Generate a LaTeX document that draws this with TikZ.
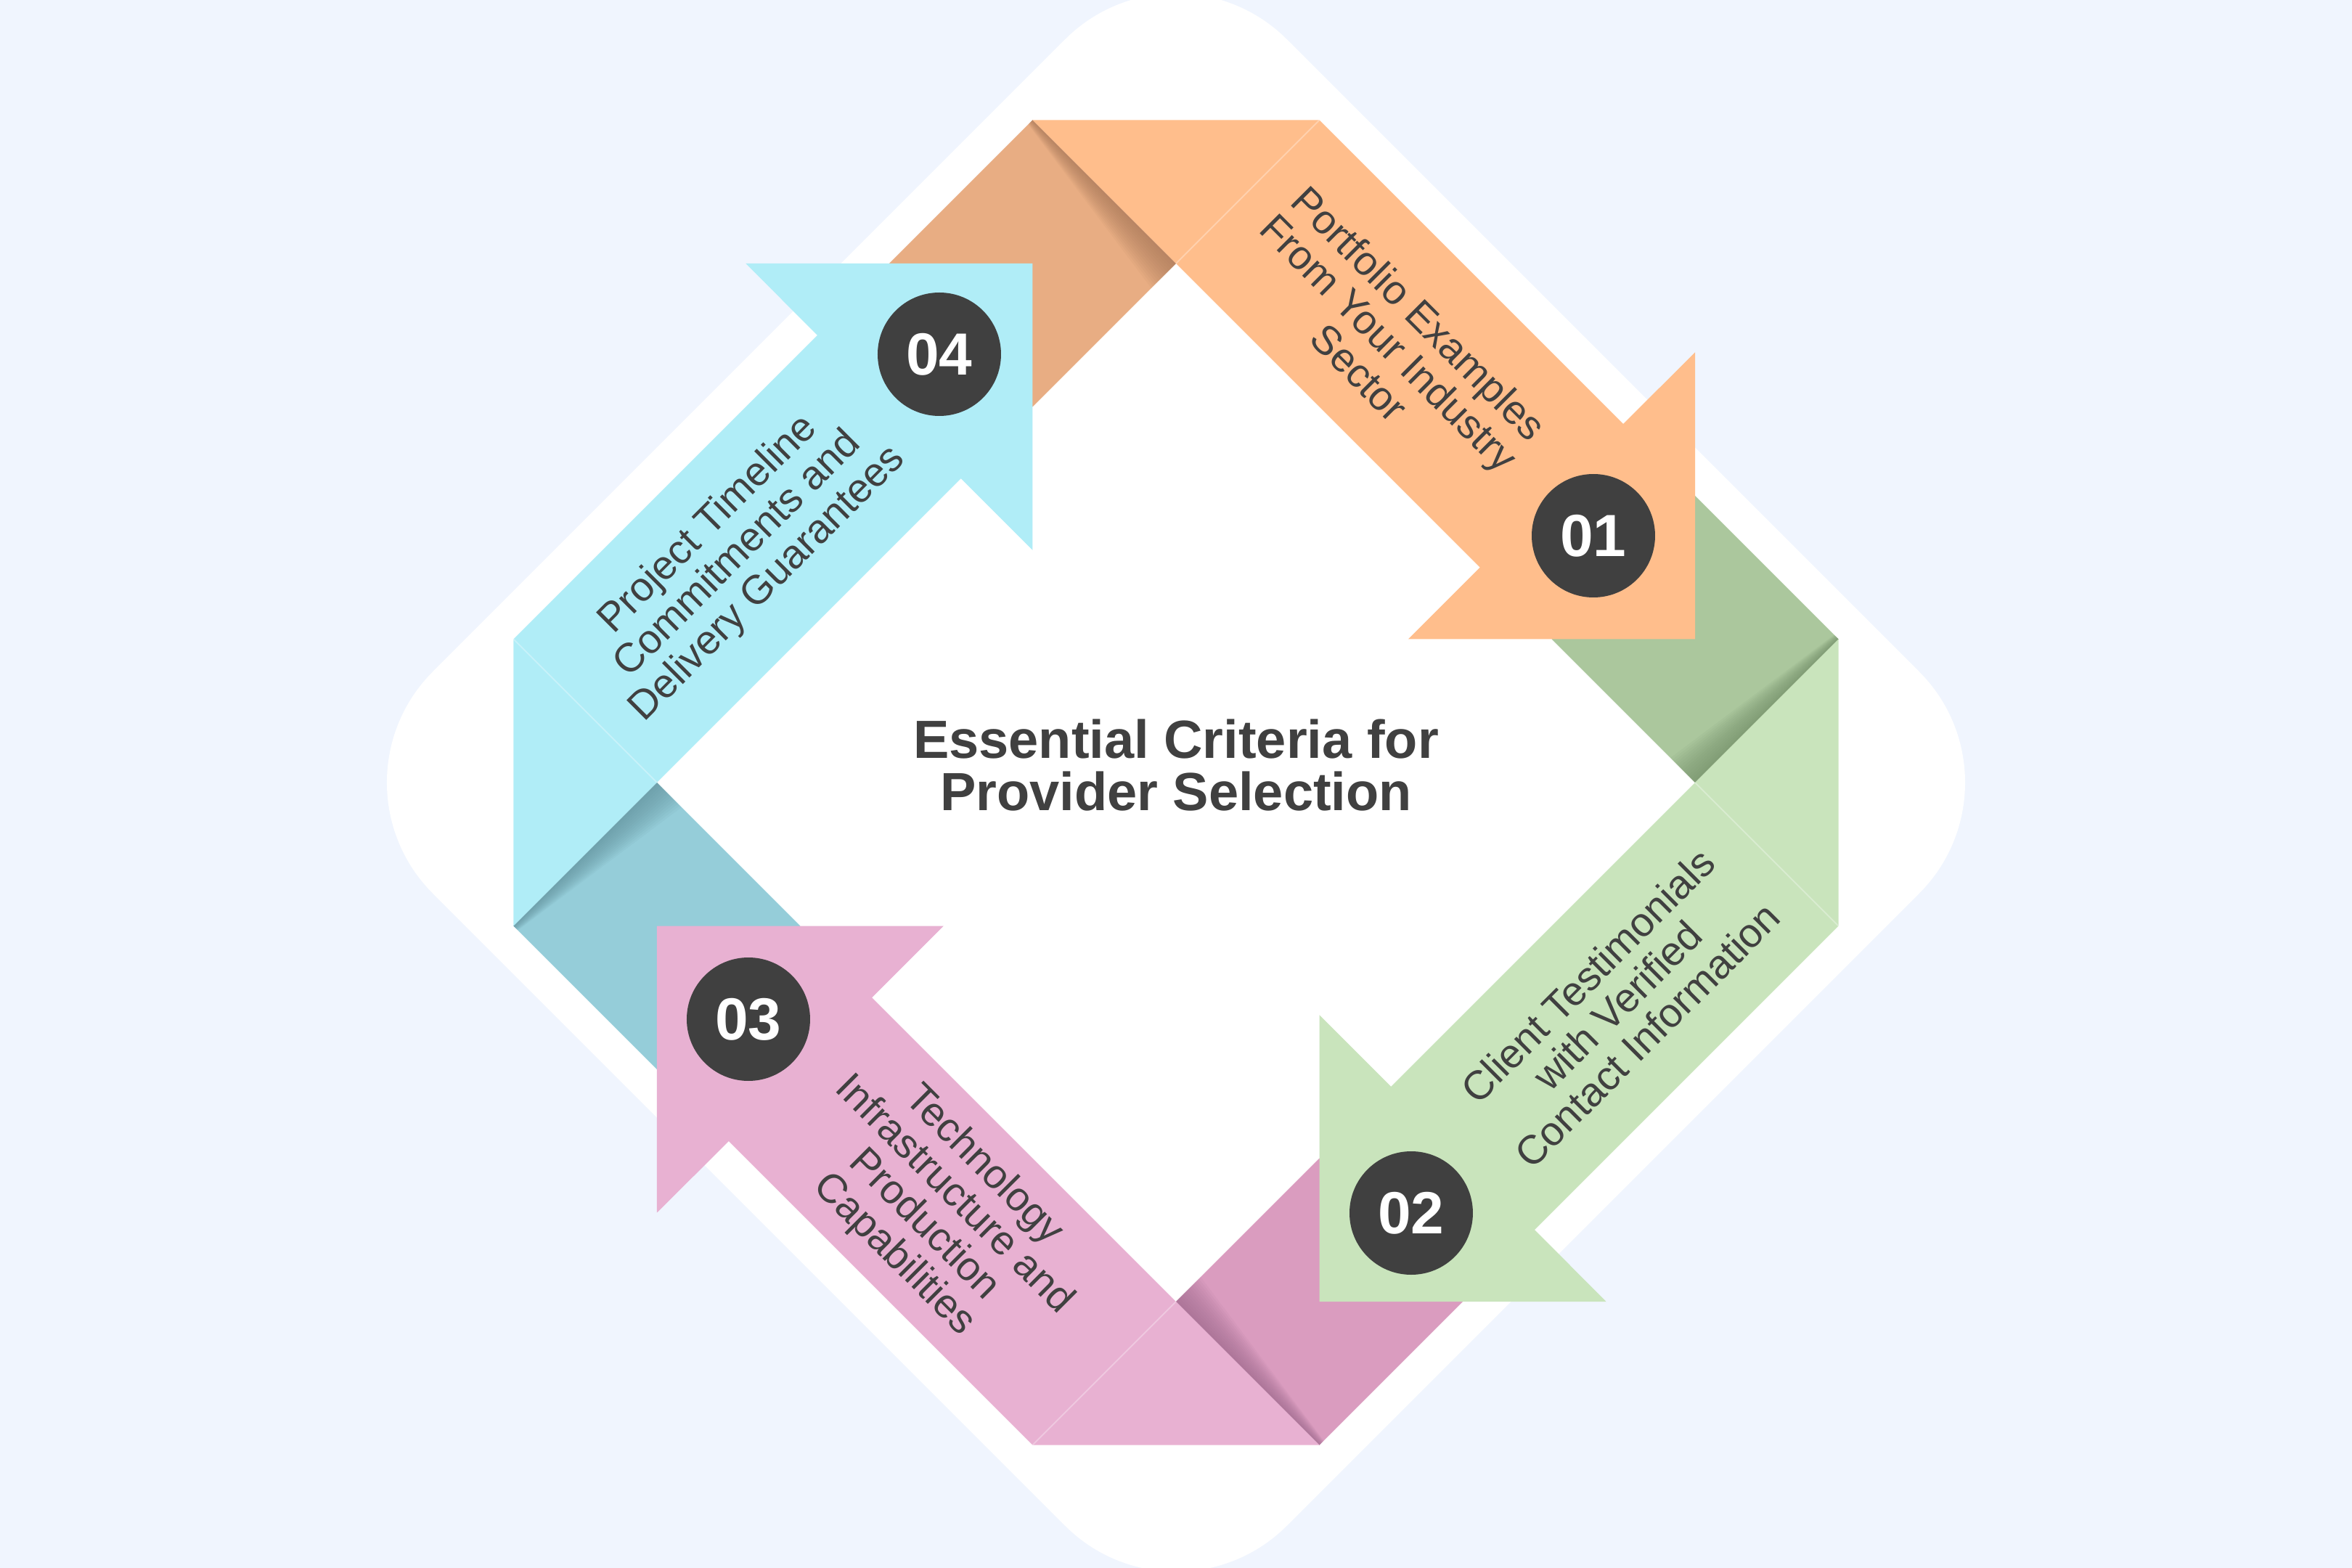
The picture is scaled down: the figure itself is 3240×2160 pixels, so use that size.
\documentclass[tikz,border=0pt]{standalone}
\usepackage{fontspec}
\setmainfont{Liberation Sans}
\definecolor{bg}{HTML}{F0F5FE}
\definecolor{ink}{HTML}{404040}
\definecolor{orA}{HTML}{FFBE8C}\definecolor{orF}{HTML}{E8AD83}\definecolor{orS}{HTML}{A8785A}
\definecolor{grA}{HTML}{C9E4BC}\definecolor{grF}{HTML}{ABC79D}\definecolor{grS}{HTML}{74906A}
\definecolor{piA}{HTML}{E8B1D2}\definecolor{piF}{HTML}{DA9CBF}\definecolor{piS}{HTML}{9E6A8E}
\definecolor{cyA}{HTML}{B0EDF7}\definecolor{cyF}{HTML}{95CDD9}\definecolor{cyS}{HTML}{64939E}
\newcommand\foldpiece[3]{%
  \begin{scope}[rotate=#1]
    \fill[#2] (0,715) -- (-197.5,912.5) -- (-395,715) -- (-197.5,517.5) -- cycle;
    \foreach \k in {1,...,14}{%
      \pgfmathsetmacro\fa{\k/14}%
      \fill[#3, opacity=0.075] (0,715) -- (-197.5,912.5) -- (-197.5-\fa*6,912.5-\fa*6) -- (-\fa*34,715-\fa*34) -- cycle;
    }
  \end{scope}}
\newcommand\arrowpiece[2]{%
  \begin{scope}[rotate=#1]
    \fill[#2] (-197.5,912.5) -- (197.5,912.5) -- (616,494) -- (715,592.5) -- (715,197.5) -- (320,197.5) -- (418.75,296.25) -- (0,715) -- cycle;
    \draw[white, opacity=0.3, line width=2] (0,715) -- (197.5,912.5);
  \end{scope}}
\begin{document}
\begin{tikzpicture}[x=1pt,y=1pt,
  txt/.style={align=center, text=ink, inner sep=0pt, font=\fontsize{56}{58}\selectfont},
  num/.style={circle, fill=ink, minimum size=170pt, inner sep=0pt, text=white, font=\bfseries\fontsize{82}{82}\selectfont},
  ttl/.style={align=center, text=ink, inner sep=0pt, font=\bfseries\fontsize{74}{72}\selectfont}]
\useasboundingbox (-1620,-1082) rectangle (1620,1078);
\clip (-1620,-1082) rectangle (1620,1078);
\fill[bg] (-1620,-1082) rectangle (1620,1078);
\fill[white, rounded corners=216pt] (0,1176.5) -- (1176.5,0) -- (0,-1176.5) -- (-1176.5,0) -- cycle;
% folds
\foldpiece{0}{orF}{orS}
\foldpiece{-90}{grF}{grS}
\foldpiece{-180}{piF}{piS}
\foldpiece{90}{cyF}{cyS}
% arrows
\arrowpiece{0}{orA}
\arrowpiece{-90}{grA}
\arrowpiece{-180}{piA}
\arrowpiece{90}{cyA}
% number badges
\node[num] (c1) at (575,340) {01};
\node[num] (c2) at (324,-593) {02};
\node[num] (c3) at (-589,-326) {03};
\node[num] (c4) at (-326,590) {04};
% labels
\node[txt, rotate=-45] (t1) at (294,606) {Portfolio Examples\\From Your Industry\\Sector};
\node[txt, rotate=45] (t2) at (608,-307) {Client Testimonials\\with Verified\\Contact Information};
\node[txt, rotate=-45] (t3) at (-327,-589) {Technology\\Infrastructure and\\Production\\Capabilities};
\node[txt, rotate=45] (t4) at (-603,314) {Project Timeline\\Commitments and\\Delivery Guarantees};
% title
\node[ttl] (title) at (0,24) {Essential Criteria for\\Provider Selection};
\end{tikzpicture}
\end{document}
